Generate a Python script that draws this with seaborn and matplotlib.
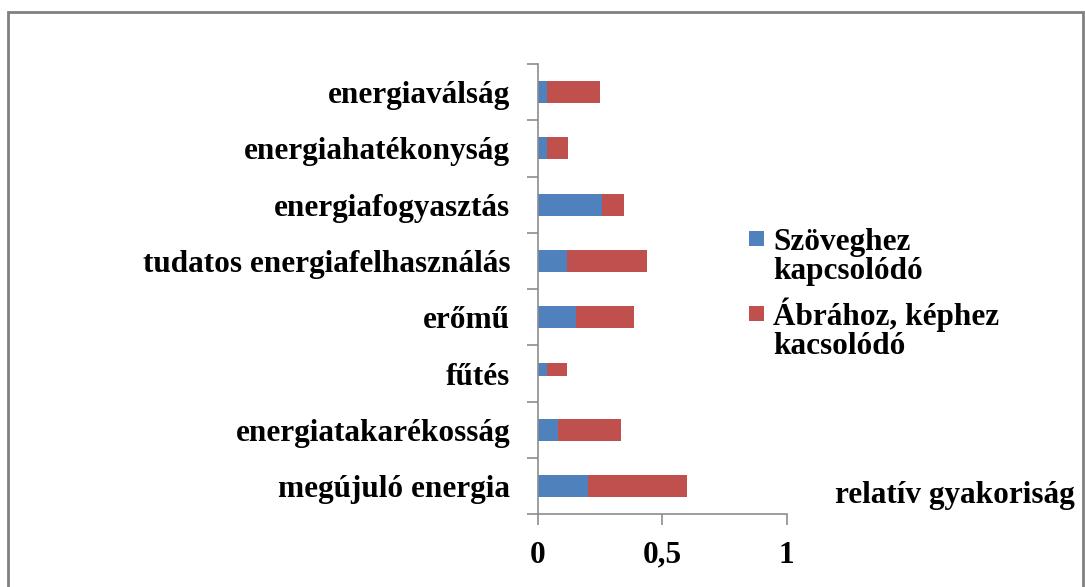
import matplotlib
matplotlib.use("Agg")
import matplotlib.pyplot as plt
import seaborn as sns
import pandas as pd
import numpy as np
from matplotlib.patches import Rectangle

categories = ["energiaválság", "energiahatékonyság", "energiafogyasztás",
              "tudatos energiafelhasználás", "erőmű", "fűtés",
              "energiatakarékosság", "megújuló energia"]
szoveg = [0.036, 0.036, 0.257, 0.116, 0.152, 0.036, 0.082, 0.200]
abra = [0.212, 0.084, 0.088, 0.322, 0.235, 0.081, 0.250, 0.401]
series_names = [["Szöveghez", "kapcsolódó"], ["Ábrához, képhez", "kacsolódó"]]
xticks = [0, 0.5, 1]
xticklabels = ["0", "0,5", "1"]
xlabel = "relatív gyakoriság"

sns.set_theme(style="white")
plt.rcParams['font.family'] = ['Liberation Serif', 'DejaVu Serif']
plt.rcParams['font.weight'] = 'bold'
plt.rcParams['text.color'] = 'black'
plt.rcParams['xtick.color'] = 'black'
plt.rcParams['ytick.color'] = 'black'

FS = 22.5
blue = "#4F81BD"
red = "#C0504D"
grey = "#8C8C8C"

df = pd.DataFrame({"cat": categories, "szoveg": szoveg, "abra": abra})
df["total"] = df["szoveg"] + df["abra"]

fig = plt.figure(figsize=(10.85, 5.87), dpi=100)
fig.patch.set_facecolor("white")
ax = fig.add_axes([538/1085, 1 - 514.3/587, (786.7 - 538)/1085, (514.3 - 64)/587])

sns.barplot(data=df, y="cat", x="total", color=red, orient="h", width=0.39,
            saturation=1, ax=ax, linewidth=0)
sns.barplot(data=df, y="cat", x="szoveg", color=blue, orient="h", width=0.39,
            saturation=1, ax=ax, linewidth=0)

# the "fűtés" bar is drawn thinner in the original
thin_idx = categories.index("fűtés")
n = len(categories)
for i, p in enumerate(ax.patches):
    if i % n == thin_idx:
        p.set_height(p.get_height() * 0.62)

ax.set_xlim(0, 1)
ax.set_ylim(n - 0.5, -0.5)
ax.set_xlabel("")
ax.set_ylabel("")

for s in ["top", "right"]:
    ax.spines[s].set_visible(False)
for s in ["left", "bottom"]:
    ax.spines[s].set_color(grey)
    ax.spines[s].set_linewidth(1.2)

ax.set_xticks(xticks)
ax.set_xticklabels(xticklabels, fontsize=FS, fontweight="bold")
ax.tick_params(axis="x", direction="out", length=8, width=1.2, color=grey,
               pad=11, bottom=True, labelcolor="black")

ax.set_yticks(np.arange(-0.5, n, 1.0))
ax.set_yticklabels([])
ax.set_yticks(np.arange(n), minor=True)
ax.set_yticklabels(categories, minor=True, fontsize=FS, fontweight="bold")
ax.tick_params(axis="y", which="major", direction="out", length=8, width=1.2,
               color=grey, left=True)
ax.tick_params(axis="y", which="minor", length=0, pad=20, left=True,
               labelcolor="black")

# legend (markers aligned to first line of each entry)
H = 587.0
W = 1085.0
entries = [(blue, 246.7), (red, 321.7)]
for (col, base), lines in zip(entries, series_names):
    fig.patches.append(Rectangle((749/W, 1 - (base - 1)/H), 15/W, 15/H,
                                 transform=fig.transFigure, facecolor=col,
                                 edgecolor="none", figure=fig))
    for k, line in enumerate(lines):
        fig.text(773/W, 1 - (base + 3 + 29*k)/H, line, ha="left", va="baseline",
                 fontsize=FS, fontweight="bold", color="black")

fig.text(835/W, 1 - 496/H, xlabel, ha="left", va="center",
         fontsize=FS, fontweight="bold", color="black")

fig.patches.append(Rectangle((8/W, -0.05), (1082.7 - 8)/W, 1.05 - 12/H,
                             transform=fig.transFigure, fill=False,
                             edgecolor="#808080", linewidth=2, figure=fig))

fig.savefig("out.png", dpi=100, facecolor="white")
